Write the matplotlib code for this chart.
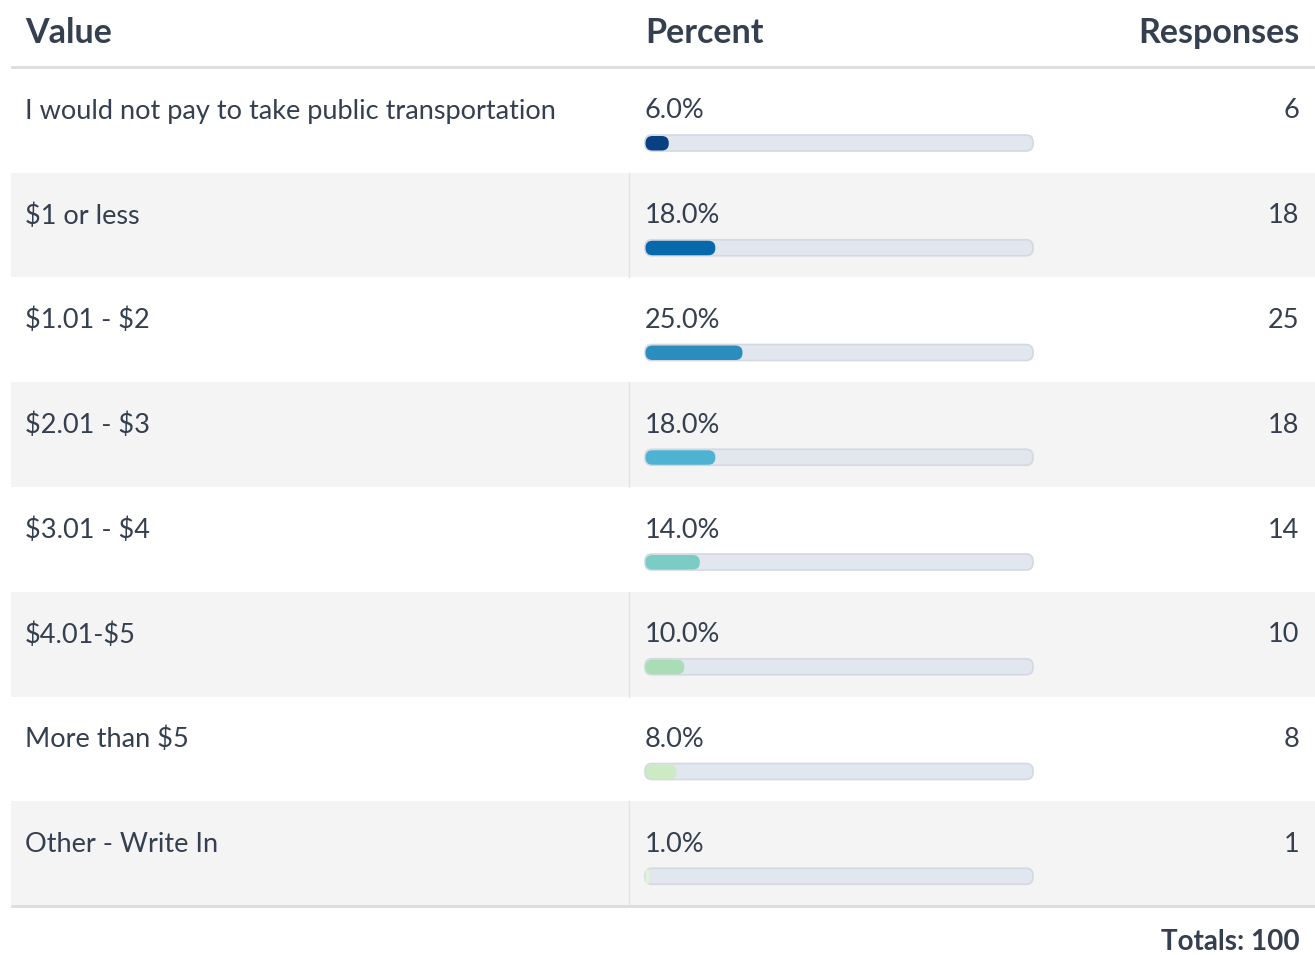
import matplotlib
matplotlib.use("Agg")
import matplotlib.pyplot as plt
from matplotlib.patches import FancyBboxPatch, Rectangle

categories = ["I would not pay to take public transportation", "$1 or less", "$1.01 - $2",
              "$2.01 - $3", "$3.01 - $4", "$4.01-$5", "More than $5", "Other - Write In"]
percents = [6.0, 18.0, 25.0, 18.0, 14.0, 10.0, 8.0, 1.0]
responses = [6, 18, 25, 18, 14, 10, 8, 1]
total = 100
headers = ["Value", "Percent", "Responses"]
colors = ["#084081", "#0868ac", "#2b8cbe", "#4eb3d3", "#7bccc4", "#a8ddb5", "#ccebc5", "#e0f3db"]

plt.rcParams['font.family'] = ['Lato', 'DejaVu Sans']
W, H = 1315, 955
fig = plt.figure(figsize=(W / 100, H / 100), dpi=100)
ax = fig.add_axes([0, 0, 1, 1])
ax.set_xlim(0, W)
ax.set_ylim(H, 0)
ax.axis('off')

txt = "#343f4f"
left, right = 11, W
col2 = 629
row_top0 = 68
row_h = (906 - 68) / len(categories)
track_x, track_w, bar_h = 645, 388, 16
fs_head, fs_body, fs_tot = 24.5, 19.5, 20

# header
ax.text(25, 33, headers[0], fontsize=fs_head, fontweight='bold', color=txt, va='center', ha='left', parse_math=False)
ax.text(645, 33, headers[1], fontsize=fs_head, fontweight='bold', color=txt, va='center', ha='left', parse_math=False)
ax.text(1300, 33, headers[2], fontsize=fs_head, fontweight='bold', color=txt, va='center', ha='right', parse_math=False)
ax.add_patch(Rectangle((left, 66), right - left, 3, color="#dedede", lw=0, zorder=3))

for i, (cat, p, r) in enumerate(zip(categories, percents, responses)):
    top = row_top0 + i * row_h
    if i % 2 == 1:
        ax.add_patch(Rectangle((left, top), right - left, row_h, color="#f4f4f4", lw=0, zorder=0))
        ax.plot([col2, col2], [top, top + row_h], color="#e4e4e4", lw=1, zorder=1)
    ty = top + 43
    ax.text(25, ty, cat, fontsize=fs_body, color=txt, va='center', ha='left', parse_math=False)
    ax.text(645, ty, f"{p:.1f}%", fontsize=fs_body, color=txt, va='center', ha='left', parse_math=False)
    ax.text(1299, ty, str(r), fontsize=fs_body, color=txt, va='center', ha='right', parse_math=False)
    by = top + 67
    ax.add_patch(FancyBboxPatch((track_x, by), track_w, bar_h,
                                boxstyle="round,pad=0,rounding_size=7",
                                fc="#e2e6ee", ec="#d3d8e1", lw=1.2, zorder=2))
    fw = track_w * p / 100
    rs = min(7, fw / 2)
    ax.add_patch(FancyBboxPatch((track_x + 0.5, by + 1), fw, bar_h - 1.5,
                                boxstyle=f"round,pad=0,rounding_size={rs}",
                                fc=colors[i], ec='none', lw=0, zorder=3))

ax.add_patch(Rectangle((left, 905), right - left, 3, color="#dedede", lw=0, zorder=3))
ax.text(1300, 942, f"Totals: {total}", fontsize=fs_tot, fontweight='bold', color=txt, va='center', ha='right', parse_math=False)

fig.savefig("out.png", dpi=100)
